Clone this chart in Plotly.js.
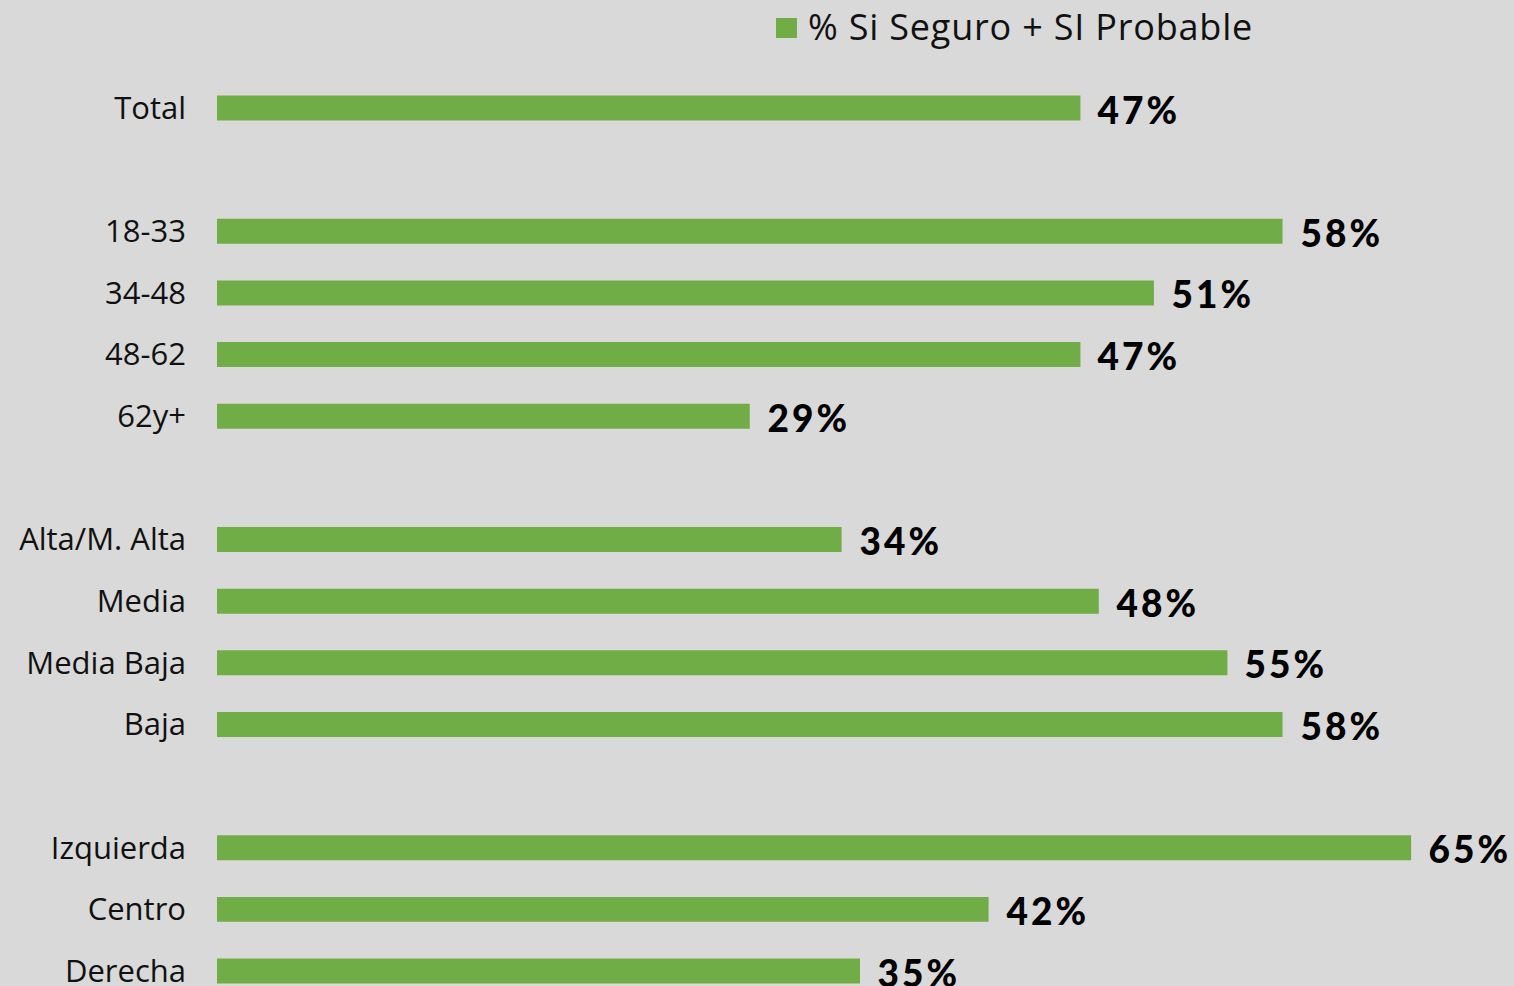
<!DOCTYPE html>
<html>
<head>
<meta charset="utf-8">
<script src="https://cdn.plot.ly/plotly-3.0.1.min.js"></script>
<style>
html,body{margin:0;padding:0;background:#d9d9d9;}
#chart{width:1514px;height:986px;}
#chart .annotation .annotation-text{letter-spacing:3px;}
#chart .annotation[data-index="12"] .annotation-text{letter-spacing:0.8px;}
</style>
</head>
<body>
<div id="chart"></div>
<script>
const categories = ['Total',' ','18-33','34-48','48-62','62y+','  ','Alta/M. Alta','Media','Media Baja','Baja','   ','Izquierda','Centro','Derecha'];
const values = [47,null,58,51,47,29,null,34,48,55,58,null,65,42,35];
const seriesName = '% Si Seguro + SI Probable';

const green = '#70ad47';
const bg = '#d9d9d9';
const FONT = '"Open Sans", Lato, sans-serif';
const VFONT = 'Lato, "Open Sans", sans-serif';

const W = 1514, H = 986;
const plotW = W - 217, plotH = H - 60;
const px = x => (x - 217) / plotW;
const py = y => (H - y) / plotH;

const annotations = [];
categories.forEach((c, i) => {
  if (values[i] === null) return;
  annotations.push({
    x: values[i], y: c, xref: 'x', yref: 'y',
    text: values[i] + '%', showarrow: false,
    xanchor: 'left', yanchor: 'middle', xshift: 20, yshift: -1,
    font: {family: VFONT, size: 37, color: '#000', weight: 900}
  });
});
annotations.push({
  x: px(816), y: py(27), xref: 'paper', yref: 'paper', text: seriesName, showarrow: false,
  xanchor: 'left', yanchor: 'middle',
  font: {family: FONT, size: 36, color: '#111'}
});

const trace = {
  type: 'bar', orientation: 'h',
  y: categories, x: values,
  marker: {color: green},
  hoverinfo: 'none', showlegend: false
};

const layout = {
  width: W, height: H,
  paper_bgcolor: bg, plot_bgcolor: bg,
  margin: {l: 217, r: 0, t: 60, b: 0, pad: 0},
  bargap: 0.595,
  showlegend: false,
  xaxis: {range: [0, 70.6], visible: false, fixedrange: true},
  yaxis: {
    type: 'category', categoryorder: 'array', categoryarray: categories,
    range: [14.2433, -0.7787],
    showgrid: false, zeroline: false, showline: false, ticks: '',
    ticklabelstandoff: 30,
    tickfont: {family: FONT, size: 31, color: '#111'}
  },
  annotations: annotations,
  shapes: [{
    type: 'rect', xref: 'paper', yref: 'paper',
    x0: px(776), x1: px(797), y0: py(38), y1: py(18),
    fillcolor: green, line: {width: 0}
  }]
};

Plotly.newPlot('chart', [trace], layout, {displayModeBar: false, staticPlot: true});
</script>
</body>
</html>
